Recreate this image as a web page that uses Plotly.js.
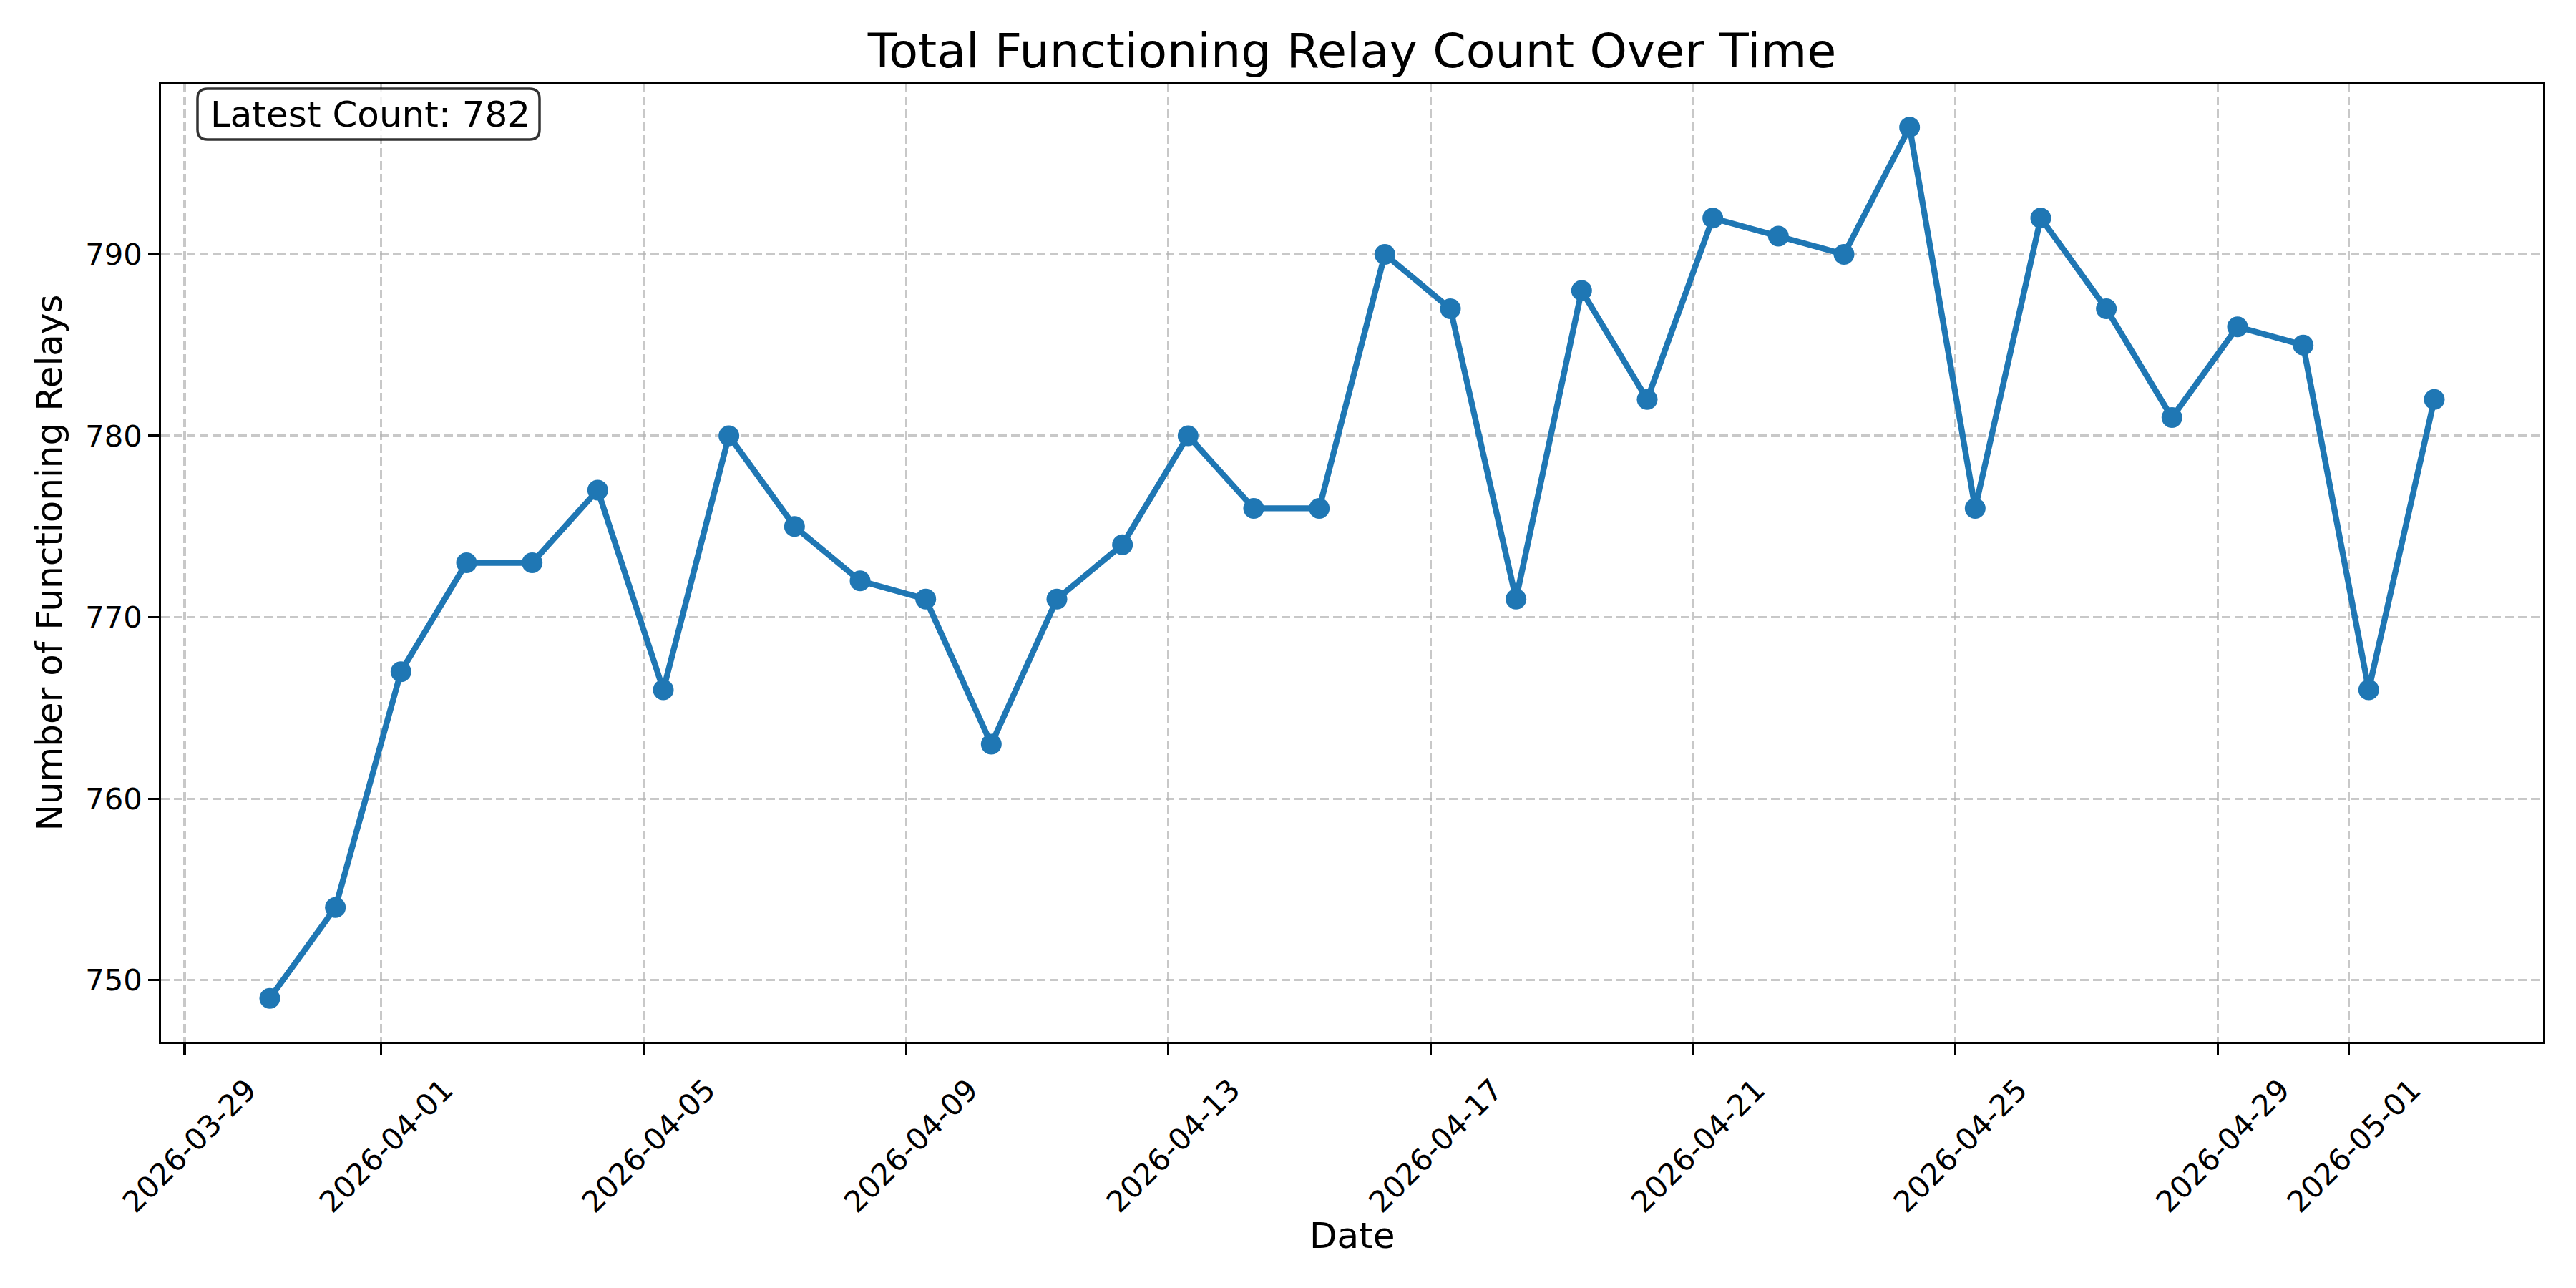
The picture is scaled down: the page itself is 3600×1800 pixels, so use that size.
<!DOCTYPE html>
<html>
<head>
<meta charset="utf-8">
<script src="https://cdn.plot.ly/plotly-3.0.1.min.js"></script>
<style>html,body{margin:0;padding:0;background:#fff;}#chart{width:3600px;height:1800px;}</style>
</head>
<body>
<div id="chart"></div>
<script>
const dates = [
  '2026-03-30 07:12','2026-03-31 07:12','2026-04-01 07:12','2026-04-02 07:12','2026-04-03 07:12',
  '2026-04-04 07:12','2026-04-05 07:12','2026-04-06 07:12','2026-04-07 07:12','2026-04-08 07:12',
  '2026-04-09 07:12','2026-04-10 07:12','2026-04-11 07:12','2026-04-12 07:12','2026-04-13 07:12',
  '2026-04-14 07:12','2026-04-15 07:12','2026-04-16 07:12','2026-04-17 07:12','2026-04-18 07:12',
  '2026-04-19 07:12','2026-04-20 07:12','2026-04-21 07:12','2026-04-22 07:12','2026-04-23 07:12',
  '2026-04-24 07:12','2026-04-25 07:12','2026-04-26 07:12','2026-04-27 07:12','2026-04-28 07:12',
  '2026-04-29 07:12','2026-04-30 07:12','2026-05-01 07:12','2026-05-02 07:12'
];
const counts = [
  749, 754, 767, 773, 773,
  777, 766, 780, 775, 772,
  771, 763, 771, 774, 780,
  776, 776, 790, 787, 771,
  788, 782, 792, 791, 790,
  797, 776, 792, 787, 781,
  786, 785, 766, 782
];
const xTickVals = ['2026-03-29','2026-04-01','2026-04-05','2026-04-09','2026-04-13',
                   '2026-04-17','2026-04-21','2026-04-25','2026-04-29','2026-05-01'];
const xTickText = ['2026-03-29','2026-04-01','2026-04-05','2026-04-09','2026-04-13',
                   '2026-04-17','2026-04-21','2026-04-25','2026-04-29','2026-05-01'];
const yTickVals = [750, 760, 770, 780, 790];

const FONT = 'DejaVu Sans, Verdana, sans-serif';
const L = 225, R = 3554, T = 117, B = 1456;
const W = R - L, H = B - T;
function px(x){ return (x - L) / W; }
function py(y){ return (B - y) / H; }

// rounded box for the annotation (pixel geometry -> paper coords)
const bx0 = 276, bx1 = 754, by0 = 124, by1 = 195, rr = 14;
function rrPath(){
  const X = v => px(v).toFixed(6), Y = v => py(v).toFixed(6);
  return 'M' + X(bx0 + rr) + ',' + Y(by0) +
    ' L' + X(bx1 - rr) + ',' + Y(by0) +
    ' Q' + X(bx1) + ',' + Y(by0) + ' ' + X(bx1) + ',' + Y(by0 + rr) +
    ' L' + X(bx1) + ',' + Y(by1 - rr) +
    ' Q' + X(bx1) + ',' + Y(by1) + ' ' + X(bx1 - rr) + ',' + Y(by1) +
    ' L' + X(bx0 + rr) + ',' + Y(by1) +
    ' Q' + X(bx0) + ',' + Y(by1) + ' ' + X(bx0) + ',' + Y(by1 - rr) +
    ' L' + X(bx0) + ',' + Y(by0 + rr) +
    ' Q' + X(bx0) + ',' + Y(by0) + ' ' + X(bx0 + rr) + ',' + Y(by0) + ' Z';
}

const trace = {
  x: dates, y: counts, type: 'scatter', mode: 'lines+markers',
  line: {color: '#1f77b4', width: 8.3},
  marker: {color: '#1f77b4', size: 29},
  hoverinfo: 'skip'
};

const layout = {
  width: 3600, height: 1800,
  paper_bgcolor: '#fff', plot_bgcolor: '#fff',
  margin: {l: L, r: 3600 - R, t: T, b: 1800 - B, pad: 0},
  showlegend: false,
  font: {family: FONT, color: '#000'},
  title: {
    text: 'Total Functioning Relay Count Over Time',
    font: {family: FONT, size: 66.7, color: '#000'},
    x: 0.5, xref: 'paper', xanchor: 'center',
    y: 1 - 71 / 1800, yref: 'container', yanchor: 'middle'
  },
  xaxis: {
    type: 'date',
    range: ['2026-03-28 15:24', '2026-05-03 23:00'],
    tickmode: 'array', tickvals: xTickVals, ticktext: xTickText,
    tickangle: -45,
    ticklabelshift: 88,
    ticklabelstandoff: 8,
    tickfont: {family: FONT, size: 41.7, color: '#000'},
    ticks: 'outside', ticklen: 14.6, tickwidth: 3.3, tickcolor: '#000',
    showline: true, linecolor: '#000', linewidth: 3.3, mirror: true,
    showgrid: true, gridcolor: 'rgba(176,176,176,0.7)', gridwidth: 3.3, griddash: '12px,6px',
    zeroline: false,
    automargin: false
  },
  yaxis: {
    range: [746.6, 799.4],
    tickmode: 'array', tickvals: yTickVals,
    tickfont: {family: FONT, size: 41.7, color: '#000'},
    ticks: 'outside', ticklen: 14.6, tickwidth: 3.3, tickcolor: '#000',
    showline: true, linecolor: '#000', linewidth: 3.3, mirror: true,
    showgrid: true, gridcolor: 'rgba(176,176,176,0.7)', gridwidth: 3.3, griddash: '12px,6px',
    zeroline: false,
    title: {text: 'Number of Functioning Relays', font: {family: FONT, size: 50, color: '#000'}, standoff: 17},
    automargin: false
  },
  shapes: [{
    type: 'path', xref: 'paper', yref: 'paper', path: rrPath(),
    fillcolor: 'rgba(255,255,255,0.8)', line: {color: 'rgba(0,0,0,0.8)', width: 3.5},
    layer: 'above'
  }],
  annotations: [{
    text: 'Latest Count: ' + counts[counts.length - 1],
    xref: 'paper', yref: 'paper',
    x: px(292), xanchor: 'left',
    y: py((by0 + by1) / 2), yanchor: 'middle',
    showarrow: false,
    font: {family: FONT, size: 50, color: '#000'}
  }, {
    text: 'Date',
    xref: 'paper', yref: 'paper',
    x: 0.5, xanchor: 'center',
    y: py(1727), yanchor: 'middle',
    showarrow: false,
    font: {family: FONT, size: 50, color: '#000'}
  }]
};

Plotly.newPlot('chart', [trace], layout, {displayModeBar: false, staticPlot: true});
</script>
</body>
</html>
